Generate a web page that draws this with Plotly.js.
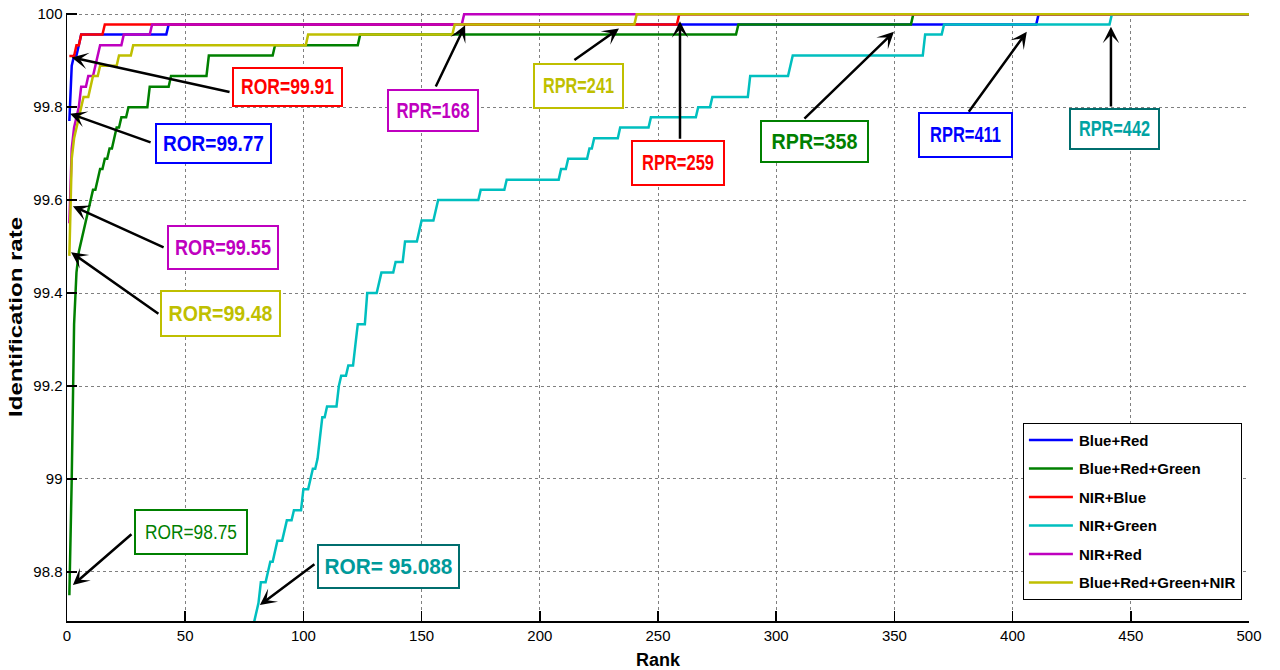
<!DOCTYPE html>
<html>
<head>
<meta charset="utf-8">
<script src="https://cdn.plot.ly/plotly-3.0.1.min.js"></script>
<style>
  html, body { margin: 0; padding: 0; background: #fff; }
  #chart { width: 1280px; height: 670px; }
</style>
</head>
<body>
<div id="chart"></div>
<script>
// Cumulative identification rate (%) against rank for each band combination.

const seriesNames = ['Blue+Red', 'Blue+Red+Green', 'NIR+Blue', 'NIR+Green', 'NIR+Red', 'Blue+Red+Green+NIR'];
const seriesColors = ['#0000ff', '#008000', '#ff0000', '#00bfbf', '#bf00bf', '#bfbf00'];

// Blue+Red
const ranksBlueRed = [1, 2, 3, 4, 5, 6, 42, 43, 410, 411, 500];
const rateBlueRed  = [99.77, 99.889, 99.911, 99.911, 99.933, 99.956, 99.956, 99.978, 99.978, 100, 100];

// Blue+Red+Green
const ranksBlueRedGreen = [1, 2, 3, 4, 5, 6, 7, 8, 9, 10, 11, 12, 13, 14, 15, 16, 17, 18, 19, 20, 21, 22, 23, 24, 25,
  26, 34, 35, 43, 44, 59, 60, 87, 88, 123, 124, 283, 284, 357, 358, 500];
const rateBlueRedGreen  = [98.75, 99.0, 99.333, 99.444, 99.489, 99.511, 99.533, 99.556, 99.578, 99.6, 99.622, 99.622,
  99.644, 99.667, 99.667, 99.689, 99.689, 99.711, 99.711, 99.733, 99.756, 99.756, 99.778, 99.778, 99.778,
  99.8, 99.8, 99.844, 99.844, 99.867, 99.867, 99.911, 99.911, 99.933, 99.933, 99.956, 99.956, 99.978, 99.978, 100, 100];

// NIR+Blue
const ranksNirBlue = [1, 3, 4, 5, 6, 15, 16, 258, 259, 500];
const rateNirBlue  = [99.91, 99.91, 99.933, 99.933, 99.956, 99.956, 99.978, 99.978, 100, 100];

// NIR+Green
const ranksNirGreen = [1, 79, 80, 81, 82, 84, 85, 86, 87, 88, 89, 91, 92, 93, 95, 96, 99, 100, 102, 103, 104, 105,
  106, 107, 108, 109, 110, 114, 115, 116, 118, 119, 121, 122, 123, 126, 127, 131, 132, 133, 138, 139, 142, 143,
  148, 149, 150, 155, 156, 157, 174, 175, 185, 186, 208, 209, 211, 212, 220, 221, 222, 223, 233, 234, 246, 247,
  266, 267, 272, 273, 288, 289, 305, 306, 307, 362, 363, 370, 371, 441, 442, 500];
const rateNirGreen  = [95.088, 98.689, 98.711, 98.733, 98.778, 98.778, 98.8, 98.822, 98.822, 98.844, 98.867, 98.867,
  98.889, 98.911, 98.911, 98.933, 98.933, 98.978, 98.978, 99.0, 99.022, 99.022, 99.044, 99.089, 99.133, 99.133,
  99.156, 99.156, 99.2, 99.222, 99.222, 99.244, 99.244, 99.289, 99.333, 99.333, 99.4, 99.4, 99.422, 99.444,
  99.444, 99.467, 99.467, 99.511, 99.511, 99.533, 99.556, 99.556, 99.578, 99.6, 99.6, 99.622, 99.622, 99.644,
  99.644, 99.667, 99.667, 99.689, 99.689, 99.711, 99.711, 99.733, 99.733, 99.756, 99.756, 99.778, 99.778, 99.8,
  99.8, 99.822, 99.822, 99.867, 99.867, 99.889, 99.911, 99.911, 99.956, 99.956, 99.978, 99.978, 100, 100];

// NIR+Red
const ranksNirRed = [1, 2, 3, 4, 5, 6, 8, 9, 11, 12, 13, 14, 23, 24, 35, 36, 167, 168, 500];
const rateNirRed  = [99.55, 99.711, 99.756, 99.778, 99.8, 99.844, 99.844, 99.867, 99.867, 99.889, 99.911, 99.933,
  99.933, 99.956, 99.956, 99.978, 99.978, 100, 100];

// Blue+Red+Green+NIR
const ranksAllBands = [1, 2, 3, 4, 5, 6, 7, 9, 10, 11, 13, 14, 21, 22, 27, 28, 101, 102, 163, 164, 240, 241, 500];
const rateAllBands  = [99.48, 99.689, 99.733, 99.756, 99.778, 99.8, 99.822, 99.822, 99.844, 99.867, 99.867, 99.889,
  99.889, 99.911, 99.911, 99.933, 99.933, 99.956, 99.956, 99.978, 99.978, 100, 100];

const seriesRanks = [ranksBlueRed, ranksBlueRedGreen, ranksNirBlue, ranksNirGreen, ranksNirRed, ranksAllBands];
const seriesRates = [rateBlueRed, rateBlueRedGreen, rateNirBlue, rateNirGreen, rateNirRed, rateAllBands];

const xTicks = [0, 50, 100, 150, 200, 250, 300, 350, 400, 450, 500];
const yTicks = [98.8, 99, 99.2, 99.4, 99.6, 99.8, 100];

const FONT = '"Liberation Sans", Arial, Helvetica, sans-serif';

const traces = seriesNames.map((name, i) => ({
  type: 'scatter',
  mode: 'lines',
  name: name,
  legendgroup: 'g' + i,
  x: seriesRanks[i],
  y: seriesRates[i],
  line: { color: seriesColors[i], width: 2.5 },
  hoverinfo: 'x+y+name'
}));

// Rank-one rate (ROR) and rank of perfect recognition (RPR) callouts.
// tw = width of the condensed label text in pixels.
const callouts = [
  { s: 2, kind: 'ROR', cx: 93.3,  cy: 99.843, w: 111, h: 40, tw: 93,  tip: [2.0, 99.907],  tail: [69.4, 99.832],  color: '#ff0000', border: '#ff0000', bold: true },
  { s: 0, kind: 'ROR', cx: 62.0,  cy: 99.722, w: 117, h: 41, tw: 101, tip: [1.3, 99.786],  tail: [36.0, 99.723],  color: '#0000ff', border: '#0000ff', bold: true },
  { s: 4, kind: 'ROR', cx: 66.0,  cy: 99.498, w: 112, h: 45, tw: 96,  tip: [2.5, 99.587],  tail: [41.5, 99.497],  color: '#bf00bf', border: '#bf00bf', bold: true },
  { s: 5, kind: 'ROR', cx: 64.9,  cy: 99.356, w: 121, h: 47, tw: 104, tip: [1.7, 99.488],  tail: [39.3, 99.353],  color: '#bfbf00', border: '#bfbf00', bold: true },
  { s: 1, kind: 'ROR', cx: 52.5,  cy: 98.886, w: 114, h: 46, tw: 92,  tip: [2.5, 98.772],  tail: [27.9, 98.884],  color: '#008000', border: '#008000', bold: false },
  { s: 3, kind: 'ROR', cx: 136.2, cy: 98.812, w: 143, h: 45, tw: 128, tip: [81.6, 98.729], tail: [105.3, 98.819], color: '#009a9a', border: '#006e6e', bold: true, sep: ' ' },
  { s: 4, kind: 'RPR', cx: 154.8, cy: 99.793, w: 92,  h: 43, tw: 73,  tip: [168.4, 99.976], tail: [155.7, 99.841], color: '#bf00bf', border: '#bf00bf', bold: true },
  { s: 5, kind: 'RPR', cx: 216.2, cy: 99.846, w: 91,  h: 46, tw: 71,  tip: [233.5, 99.969], tail: [214.0, 99.899], color: '#bfbf00', border: '#bfbf00', bold: true },
  { s: 2, kind: 'RPR', cx: 258.5, cy: 99.680, w: 94,  h: 46, tw: 72,  tip: [259.3, 99.985], tail: [259.3, 99.729], color: '#ff0000', border: '#ff0000', bold: true },
  { s: 1, kind: 'RPR', cx: 316.0, cy: 99.726, w: 109, h: 43, tw: 86,  tip: [349.8, 99.962], tail: [311.3, 99.772], color: '#008000', border: '#008000', bold: true },
  { s: 0, kind: 'RPR', cx: 380.1, cy: 99.739, w: 95,  h: 46, tw: 71,  tip: [406.0, 99.962], tail: [381.0, 99.787], color: '#0000ff', border: '#0000ff', bold: true },
  { s: 3, kind: 'RPR', cx: 443.1, cy: 99.753, w: 91,  h: 42, tw: 71,  tip: [441.6, 99.973], tail: [441.6, 99.798], color: '#00a3a3', border: '#006e6e', bold: true }
];

function calloutText(c) {
  const ranks = seriesRanks[c.s], rates = seriesRates[c.s];
  if (c.kind === 'ROR') return 'ROR=' + (c.sep || '') + rates[0];
  return 'RPR=' + ranks[rates.findIndex(v => v >= 100)];
}

const annotations = [];
const labelIndex = [];
callouts.forEach(c => {
  annotations.push({
    xref: 'x', yref: 'y', axref: 'x', ayref: 'y',
    x: c.tip[0], y: c.tip[1], ax: c.tail[0], ay: c.tail[1],
    text: '', showarrow: true, arrowhead: 3, arrowsize: 1.1, arrowwidth: 2.5,
    arrowcolor: '#000000', standoff: 0, startstandoff: 0
  });
  labelIndex.push(annotations.length);
  annotations.push({
    xref: 'x', yref: 'y', x: c.cx, y: c.cy,
    xanchor: 'center', yanchor: 'middle',
    text: calloutText(c), showarrow: false,
    width: c.w - 4, height: c.h - 4, borderpad: 0, borderwidth: 2,
    bordercolor: c.border, bgcolor: '#ffffff',
    font: { family: FONT, size: c.bold ? 22 : 21, color: c.color, weight: c.bold ? 'bold' : 'normal' }
  });
});

const axisCommon = {
  showgrid: true, gridcolor: '#808080', griddash: 'dot', gridwidth: 1,
  showline: true, linecolor: '#000000', linewidth: 1.5, mirror: false,
  ticks: 'inside', ticklen: 10, tickwidth: 1.5, tickcolor: '#000000',
  zeroline: false, automargin: false,
  tickfont: { family: FONT, size: 15, color: '#000000' }
};

const layout = {
  width: 1280, height: 670,
  margin: { l: 67, r: 31, t: 13, b: 49, pad: 0 },
  paper_bgcolor: '#ffffff', plot_bgcolor: '#ffffff',
  font: { family: FONT, color: '#000000' },
  showlegend: true,
  legend: {
    x: 0.994, y: 0.035, xanchor: 'right', yanchor: 'bottom',
    bgcolor: '#ffffff', bordercolor: '#000000', borderwidth: 1,
    font: { family: FONT, size: 15, color: '#000000', weight: 'bold' },
    tracegroupgap: 6, itemwidth: 45
  },
  xaxis: Object.assign({}, axisCommon, {
    range: [0, 500], tickvals: xTicks,
    title: { text: 'Rank', font: { family: FONT, size: 18, weight: 'bold' }, standoff: 11 }
  }),
  yaxis: Object.assign({}, axisCommon, {
    range: [98.6945, 100.0025], tickvals: yTicks,
    title: { text: 'Identification rate', font: { family: FONT, size: 24, weight: 'bold' }, standoff: 4 }
  }),
  annotations: annotations
};

// Squeeze an svg text element along one local axis about a fixed point.
function squeeze(el, sx, sy, px, py) {
  const prev = el.getAttribute('transform') || '';
  el.setAttribute('transform', prev + ' translate(' + px + ',' + py + ') scale(' + sx + ',' + sy + ') translate(' + (-px) + ',' + (-py) + ')');
}

function finishStyling(gd) {
  // condensed callout lettering
  labelIndex.forEach((annIdx, k) => {
    const g = gd.querySelector('g.annotation[data-index="' + annIdx + '"]');
    if (!g) return;
    const t = g.querySelector('text.annotation-text');
    if (!t) return;
    t.removeAttribute('clip-path');
    t.style.clipPath = '';
    const natural = t.getComputedTextLength();
    if (!natural) return;
    squeeze(t, callouts[k].tw / natural, 1, parseFloat(t.getAttribute('x')) || 0, 0);
  });
  // narrow stroke for the vertical axis title
  const yt = gd.querySelector('text.ytitle');
  if (yt) squeeze(yt, 1, 0.8, parseFloat(yt.getAttribute('x')) || 0, parseFloat(yt.getAttribute('y')) || 0);
  // longer line samples in the legend
  gd.querySelectorAll('g.legend path.js-line').forEach(p => p.setAttribute('d', 'M5,0h44'));
}

Plotly.newPlot('chart', traces, layout, { displayModeBar: false, staticPlot: true })
  .then(gd => finishStyling(gd));
</script>
</body>
</html>
